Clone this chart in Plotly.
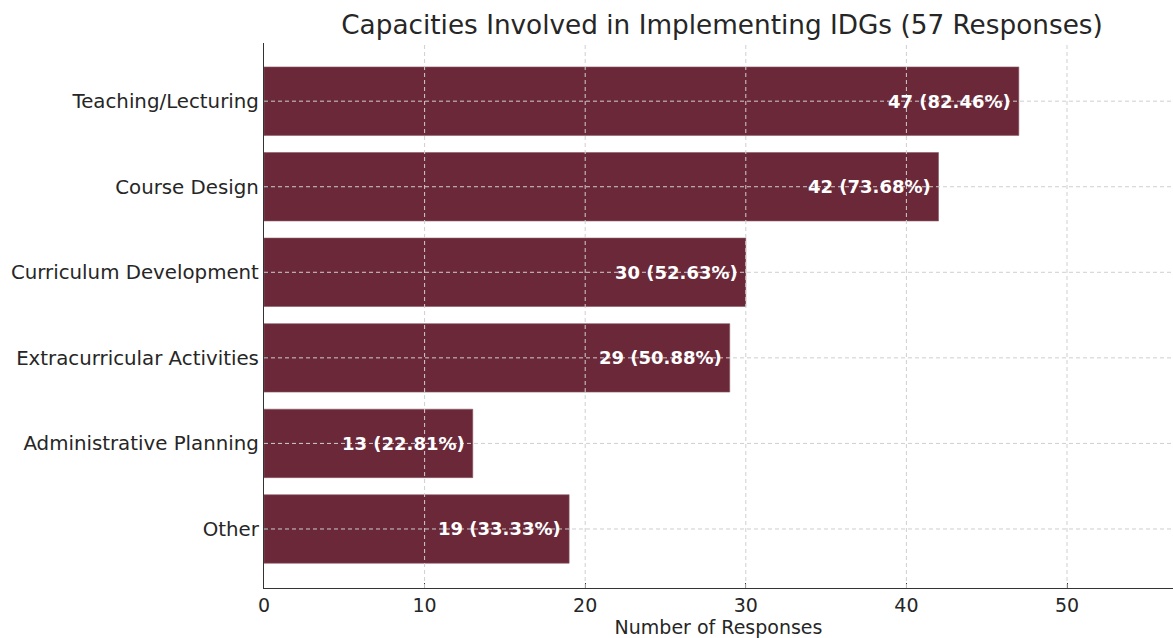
import plotly.graph_objects as go

# Survey results: roles in which respondents implement IDGs
categories = [
    "Teaching/Lecturing",
    "Course Design",
    "Curriculum Development",
    "Extracurricular Activities",
    "Administrative Planning",
    "Other",
]
responses = [47, 42, 30, 29, 13, 19]
total_responses = 57

x_ticks = [0, 10, 20, 30, 40, 50]

# Plot from the bottom up so the first category is on top
cats_plot = categories[::-1]
vals_plot = responses[::-1]
positions = list(range(len(cats_plot)))
labels = [f"{v} ({v / total_responses * 100:.2f}%)" for v in vals_plot]

FONT = "DejaVu Sans"
BAR = "#6b2839"
GRID = "#cfcfcf"
INK = "#262626"

fig = go.Figure(
    go.Bar(
        x=vals_plot,
        y=positions,
        orientation="h",
        width=0.8,
        marker=dict(color=BAR, line=dict(color="#8a5a66", width=0.6)),
        hoverinfo="skip",
    )
)

# Value labels, right-aligned just inside the end of each bar
annotations = [
    dict(x=v, y=p, xref="x", yref="y", text=t, showarrow=False,
         xanchor="right", yanchor="middle", xshift=-6,
         font=dict(family=FONT, size=18, color="white", weight="bold"))
    for v, p, t in zip(vals_plot, positions, labels)
]

y_lo, y_hi = -0.69, len(cats_plot) - 1 + 0.68
x_hi = 56.6

# Dashed grid drawn on top of the bars
shapes = []
for t in x_ticks[1:]:
    shapes.append(dict(type="line", xref="x", yref="y", x0=t, x1=t, y0=y_lo, y1=y_hi,
                       line=dict(color=GRID, width=1, dash="4px,3px"), layer="above"))
for p in positions:
    shapes.append(dict(type="line", xref="x", yref="y", x0=0, x1=x_hi, y0=p, y1=p,
                       line=dict(color=GRID, width=1, dash="4px,3px"), layer="above"))

fig.update_layout(
    width=1173,
    height=638,
    margin=dict(l=264, r=0, t=43, b=50),
    paper_bgcolor="white",
    plot_bgcolor="white",
    showlegend=False,
    shapes=shapes,
    annotations=annotations,
    title=dict(
        text=f"Capacities Involved in Implementing IDGs ({total_responses} Responses)",
        font=dict(family=FONT, size=26.3, color=INK),
        x=(268 + 1176) / 2 / 1173,
        xanchor="center",
        y=1 - 25 / 638,
        yanchor="middle",
    ),
    font=dict(family=FONT, color=INK),
)

fig.update_xaxes(
    range=[0, x_hi],
    tickvals=x_ticks,
    showgrid=False,
    zeroline=False,
    showline=True,
    linecolor="#333333",
    linewidth=1.3,
    ticks="inside",
    ticklen=5,
    tickcolor="#333333",
    tickfont=dict(family=FONT, size=19, color=INK),
    title=dict(text="Number of Responses", font=dict(family=FONT, size=19, color=INK), standoff=2),
)

fig.update_yaxes(
    range=[y_lo, y_hi],
    tickvals=positions,
    ticktext=cats_plot,
    showgrid=False,
    zeroline=False,
    showline=True,
    linecolor="#333333",
    linewidth=1.3,
    ticks="inside",
    ticklen=5,
    tickcolor="#333333",
    tickfont=dict(family=FONT, size=19.8, color=INK),
)

fig.write_html("out.html")
